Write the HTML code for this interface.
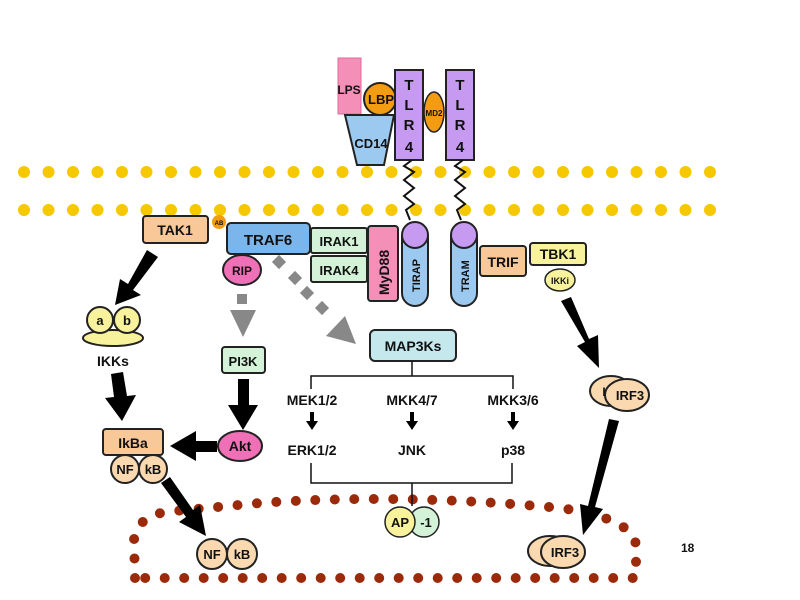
<!DOCTYPE html>
<html><head><meta charset="utf-8"><style>
html,body{margin:0;padding:0;background:#fff;}
svg{display:block;}
text{font-family:"Liberation Sans",sans-serif;font-weight:bold;fill:#111;}
</style></head><body>
<svg width="800" height="600" viewBox="0 0 800 600" xmlns="http://www.w3.org/2000/svg">
<defs>
<marker id="ah" markerWidth="10" markerHeight="10" refX="3" refY="5" orient="auto" markerUnits="userSpaceOnUse">
</marker>
</defs>
<rect width="800" height="600" fill="#fff"/>
<!-- membrane -->
<g fill="#f5c800">
<line x1="24" y1="172" x2="722" y2="172" stroke="#f5c800" stroke-width="12" stroke-linecap="round" stroke-dasharray="0 24.5"/>
<line x1="24" y1="210" x2="722" y2="210" stroke="#f5c800" stroke-width="12" stroke-linecap="round" stroke-dasharray="0 24.5"/>
</g>
<!-- nucleus -->
<path d="M135,578 L134,540 Q136,518 165,512 L260,503 Q400,493 560,508 Q632,518 636,545 L636,578 Z" fill="none" stroke="#9a2a0a" stroke-width="10" stroke-linecap="round" stroke-dasharray="0 19.5"/>
<!-- LPS, LBP, CD14 -->
<rect x="338" y="58" width="23" height="56" fill="#f48fb8" stroke="#e06a9a" stroke-width="1"/>
<polygon points="345,115 394,115 384,165 357,165" fill="#9cc9f0" stroke="#222" stroke-width="2"/>
<text x="371" y="148" font-size="13" text-anchor="middle">CD14</text>
<circle cx="380" cy="99" r="16" fill="#f39c12" stroke="#222" stroke-width="2"/>
<text x="349" y="94" font-size="12" text-anchor="middle">LPS</text>
<text x="381" y="104" font-size="13" text-anchor="middle">LBP</text>
<!-- TLR4 -->
<rect x="395" y="70" width="28" height="90" fill="#c59af0" stroke="#222" stroke-width="2"/>
<rect x="446" y="70" width="28" height="90" fill="#c59af0" stroke="#222" stroke-width="2"/>
<g font-size="15" text-anchor="middle">
<text x="409" y="90">T</text><text x="409" y="110">L</text><text x="409" y="130">R</text><text x="409" y="152">4</text>
<text x="460" y="90">T</text><text x="460" y="110">L</text><text x="460" y="130">R</text><text x="460" y="152">4</text>
</g>
<ellipse cx="434" cy="112" rx="10" ry="20" fill="#f39c12" stroke="#222" stroke-width="1.5"/>
<text x="434" y="116" font-size="8" font-weight="normal" text-anchor="middle">MD2</text>
<!-- squiggles -->
<path d="M412,160 L404,166 L414,172 L404,180 L414,188 L404,196 L414,204 L406,210 L410,220" fill="none" stroke="#111" stroke-width="2"/>
<path d="M463,160 L455,166 L465,172 L455,180 L465,188 L455,196 L465,204 L457,210 L461,220" fill="none" stroke="#111" stroke-width="2"/>
<!-- TIRAP / TRAM -->
<rect x="402" y="224" width="26" height="82" rx="13" fill="#9cc9f0" stroke="#222" stroke-width="2"/>
<circle cx="415" cy="235" r="13" fill="#c59af0" stroke="#222" stroke-width="2"/>
<text transform="translate(420,292) rotate(-90)" font-size="11">TIRAP</text>
<rect x="451" y="224" width="26" height="82" rx="13" fill="#9cc9f0" stroke="#222" stroke-width="2"/>
<circle cx="464" cy="235" r="13" fill="#c59af0" stroke="#222" stroke-width="2"/>
<text transform="translate(469,292) rotate(-90)" font-size="11">TRAM</text>
<!-- MyD88 -->
<rect x="368" y="226" width="30" height="75" rx="3" fill="#f48fb8" stroke="#222" stroke-width="2"/>
<text transform="translate(389,295) rotate(-90)" font-size="14" font-weight="normal">MyD88</text>
<!-- IRAK -->
<rect x="311" y="228" width="56" height="25" rx="2" fill="#d4f2d8" stroke="#222" stroke-width="2"/>
<text x="339" y="246" font-size="13" text-anchor="middle">IRAK1</text>
<rect x="311" y="256" width="56" height="26" rx="2" fill="#d4f2d8" stroke="#222" stroke-width="2"/>
<text x="339" y="275" font-size="13" text-anchor="middle">IRAK4</text>
<!-- TRAF6 -->
<rect x="227" y="223" width="83" height="31" rx="4" fill="#7ab6ec" stroke="#222" stroke-width="2"/>
<text x="268" y="245" font-size="15" text-anchor="middle">TRAF6</text>
<!-- TAK1 -->
<rect x="143" y="216" width="65" height="27" rx="3" fill="#f8c898" stroke="#222" stroke-width="2"/>
<text x="175" y="235" font-size="14" text-anchor="middle">TAK1</text>
<circle cx="219" cy="222" r="7" fill="#f39c12"/>
<text x="219" y="225" font-size="6" font-weight="normal" text-anchor="middle">AB</text>
<!-- RIP -->
<ellipse cx="242" cy="270" rx="19" ry="15" fill="#f070b8" stroke="#222" stroke-width="2"/>
<text x="242" y="275" font-size="12" text-anchor="middle">RIP</text>
<!-- grey dashed arrows -->
<rect x="237" y="294" width="10" height="10" fill="#888"/>
<polygon points="230,310 256,310 243,337" fill="#888"/>
<g fill="#888">
<rect x="274" y="257" width="10" height="10" transform="rotate(45 279 262)"/>
<rect x="290" y="273" width="10" height="10" transform="rotate(45 295 278)"/>
<rect x="302" y="288" width="10" height="10" transform="rotate(45 307 293)"/>
<rect x="317" y="303" width="10" height="10" transform="rotate(45 322 308)"/>
<polygon points="345,316 326,336 356,344"/>
</g>
<!-- PI3K -->
<rect x="222" y="347" width="43" height="26" rx="3" fill="#d4f2d8" stroke="#222" stroke-width="2"/>
<text x="243" y="366" font-size="13" text-anchor="middle">PI3K</text>
<!-- Akt -->
<ellipse cx="240" cy="446" rx="22" ry="15" fill="#f070b8" stroke="#222" stroke-width="2"/>
<text x="240" y="451" font-size="14" text-anchor="middle">Akt</text>
<!-- black arrows -->
<g fill="#000" stroke="none">
<!-- PI3K->Akt -->
<polygon points="238,379 249,379 249,405 258,405 243,430 228,405 238,405"/>
<!-- Akt -> IkBa -->
<polygon points="217,441 217,452 196,452 196,461 170,446 196,431 196,441"/>
<!-- TAK1 -> IKKs -->
<polygon points="147,250 158,257 133,290 141,295 115,305 120,279 128,284"/>
<!-- IKKs -> IkBa -->
<polygon points="111,374 123,372 127,396 136,395 122,421 105,398 114,397"/>
<!-- NFkB -> nucleus -->
<polygon points="161,483 170,477 193,510 200,505 206,536 179,522 186,517"/>
<!-- TBK1 -> IRF3 -->
<polygon points="561,301 571,297 589,339 598,335 599,368 577,346 585,342"/>
<!-- IRF3 -> nucleus -->
<polygon points="609,419 619,421 595,507 603,509 583,535 580,504 588,506"/>
</g>
<!-- IKKs -->
<ellipse cx="113" cy="338" rx="30" ry="8" fill="#f8f29c" stroke="#222" stroke-width="2"/>
<circle cx="100" cy="320" r="13" fill="#f8f29c" stroke="#222" stroke-width="2"/>
<circle cx="127" cy="320" r="13" fill="#f8f29c" stroke="#222" stroke-width="2"/>
<text x="100" y="325" font-size="13" text-anchor="middle">a</text>
<text x="127" y="325" font-size="13" text-anchor="middle">b</text>
<text x="113" y="366" font-size="14" text-anchor="middle">IKKs</text>
<!-- IkBa -->
<rect x="103" y="429" width="60" height="26" rx="3" fill="#f8c898" stroke="#222" stroke-width="2"/>
<text x="133" y="448" font-size="14" text-anchor="middle">IkBa</text>
<circle cx="125" cy="469" r="14" fill="#fad9b0" stroke="#222" stroke-width="2"/>
<circle cx="153" cy="469" r="14" fill="#fad9b0" stroke="#222" stroke-width="2"/>
<text x="125" y="474" font-size="13" text-anchor="middle">NF</text>
<text x="153" y="474" font-size="13" text-anchor="middle">kB</text>
<!-- NFkB nucleus -->
<circle cx="212" cy="554" r="15" fill="#fad9b0" stroke="#222" stroke-width="2"/>
<circle cx="242" cy="554" r="15" fill="#fad9b0" stroke="#222" stroke-width="2"/>
<text x="212" y="559" font-size="13" text-anchor="middle">NF</text>
<text x="242" y="559" font-size="13" text-anchor="middle">kB</text>
<!-- MAP3Ks -->
<rect x="370" y="330" width="86" height="31" rx="5" fill="#c4e8ec" stroke="#222" stroke-width="2"/>
<text x="413" y="351" font-size="14" text-anchor="middle">MAP3Ks</text>
<g stroke="#111" stroke-width="1.5" fill="none">
<path d="M412,361 V376 M311,389 V376 H513 V389"/>
<path d="M311,463 V483 H512 V463 M412,483 V506"/>
</g>
<g font-size="14" text-anchor="middle">
<text x="312" y="405">MEK1/2</text><text x="412" y="405">MKK4/7</text><text x="513" y="405">MKK3/6</text>
<text x="312" y="455">ERK1/2</text><text x="412" y="455">JNK</text><text x="513" y="455">p38</text>
</g>
<g fill="#000">
<polygon points="310,412 314,412 314,421 318,421 312,430 306,421 310,421"/>
<polygon points="410,412 414,412 414,421 418,421 412,430 406,421 410,421"/>
<polygon points="511,412 515,412 515,421 519,421 513,430 507,421 511,421"/>
</g>
<!-- AP-1 -->
<circle cx="424" cy="522" r="15" fill="#d4f2d8" stroke="#222" stroke-width="1.5"/>
<circle cx="400" cy="522" r="15" fill="#f8f29c" stroke="#222" stroke-width="1.5"/>
<text x="400" y="527" font-size="13" text-anchor="middle">AP</text>
<text x="426" y="527" font-size="13" text-anchor="middle">-1</text>
<!-- TRIF, TBK1, IKKi -->
<rect x="480" y="246" width="46" height="30" rx="3" fill="#f8c898" stroke="#222" stroke-width="2"/>
<text x="503" y="267" font-size="14" text-anchor="middle">TRIF</text>
<rect x="530" y="243" width="56" height="22" rx="3" fill="#f8f29c" stroke="#222" stroke-width="2"/>
<text x="558" y="259" font-size="14" text-anchor="middle">TBK1</text>
<ellipse cx="560" cy="280" rx="15" ry="11" fill="#f8f29c" stroke="#222" stroke-width="1.5"/>
<text x="560" y="284" font-size="9" text-anchor="middle">IKKi</text>
<!-- IRF3 upper -->
<ellipse cx="611" cy="391" rx="21" ry="15" fill="#fad9b0" stroke="#222" stroke-width="2"/>
<ellipse cx="627" cy="395" rx="22" ry="16" fill="#fad9b0" stroke="#222" stroke-width="2"/>
<text x="604" y="396" font-size="12" text-anchor="middle">I</text>
<text x="630" y="400" font-size="13" text-anchor="middle">IRF3</text>
<!-- IRF3 lower -->
<ellipse cx="550" cy="551" rx="22" ry="15" fill="#fad9b0" stroke="#222" stroke-width="2"/>
<ellipse cx="563" cy="552" rx="22" ry="16" fill="#fad9b0" stroke="#222" stroke-width="2"/>
<text x="565" y="557" font-size="13" text-anchor="middle">IRF3</text>
<text x="681" y="552" font-size="12" font-weight="normal">18</text>
</svg>
</body></html>
